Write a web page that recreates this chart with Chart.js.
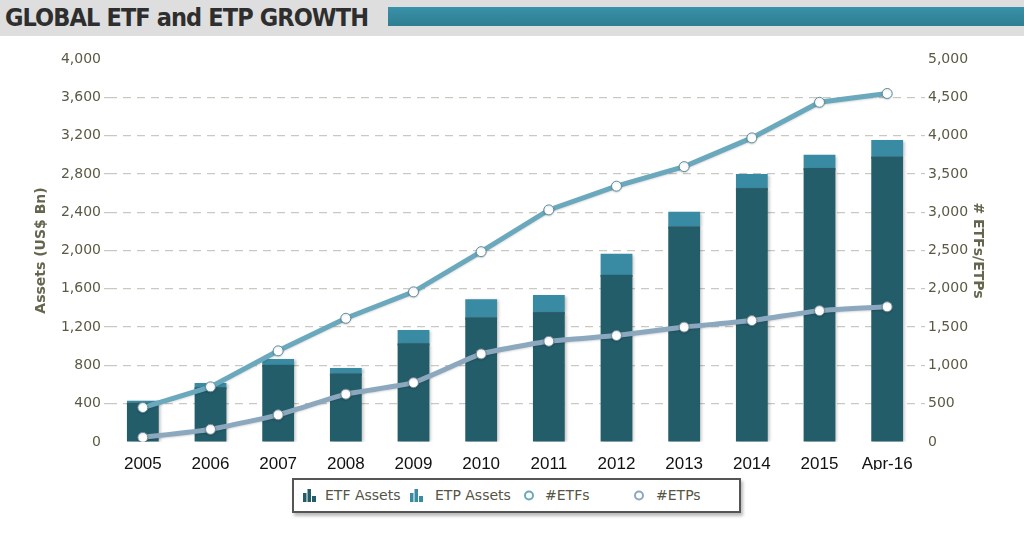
<!DOCTYPE html>
<html><head><meta charset="utf-8">
<script src="https://cdn.jsdelivr.net/npm/chart.js@4"></script>
<style>
html,body{margin:0;padding:0;background:#fff;width:1024px;height:540px;overflow:hidden;position:relative;font-family:"DejaVu Sans",Verdana,sans-serif;}
#band{position:absolute;left:0;top:0;width:1024px;height:36px;background:#dedede;}
#title{position:absolute;left:5px;top:2px;font-family:"DejaVu Sans Condensed","DejaVu Sans",sans-serif;font-weight:bold;font-size:25px;color:#2e2e2e;letter-spacing:-0.9px;line-height:32px;}
#tbar{position:absolute;left:388px;top:7px;width:636px;height:19px;background:linear-gradient(#3892a9,#2f7d91);}
#wrap{position:absolute;left:0;top:40px;width:1024px;height:430px;}
#legend{position:absolute;left:292px;top:478px;width:445px;height:31px;border:2px solid #555;box-shadow:2px 3px 3px #bbb;background:#fff;font-size:14px;color:#555545;}
.li{position:absolute;top:7px;white-space:nowrap;}
.ic{position:absolute;top:9px;}
</style></head>
<body>
<div id="band"></div>
<div id="title">GLOBAL ETF and ETP GROWTH</div>
<div id="tbar"></div>
<div id="wrap"><canvas id="c"></canvas></div>
<div id="legend"></div>
<script>
const categories = ['2005','2006','2007','2008','2009','2010','2011','2012','2013','2014','2015','Apr-16'];
const etfAssets = [410,570,805,715,1030,1300,1355,1745,2250,2650,2860,2980];
const etpAssets = [22,45,62,58,140,190,180,220,155,150,140,175];
const numETFs = [450,720,1190,1615,1960,2485,3030,3340,3595,3970,4435,4550];
const numETPs = [60,165,355,625,775,1150,1315,1390,1500,1585,1715,1765];
const seriesLabels = ['ETF Assets','ETP Assets','#ETFs','#ETPs'];
const leftTicks = [0,400,800,1200,1600,2000,2400,2800,3200,3600,4000];
const rightTicks = [0,500,1000,1500,2000,2500,3000,3500,4000,4500,5000];

const cDark='#245d6a', cLight='#388ba3', cEtf='#6aa9bd', cEtp='#8ca8be';
const tickColor='#5a5a44', gridColor='#c9c9c1';
const tickFont={family:'"DejaVu Sans",Verdana',size:14};
const titleFont={family:'"DejaVu Sans",Verdana',size:14,weight:'bold'};

const shadowPlugin={id:'shadow',
  beforeDatasetDraw(chart,args){const ctx=chart.ctx;ctx.save();
    if(args.index>=2){ctx.shadowColor='rgba(0,0,0,0.25)';ctx.shadowBlur=3;ctx.shadowOffsetX=2;ctx.shadowOffsetY=1;}
    else {ctx.shadowColor='rgba(0,0,0,0.15)';ctx.shadowBlur=2;ctx.shadowOffsetY=1;}},
  afterDatasetDraw(chart){chart.ctx.restore();}
};
const seamPlugin={id:'seam',afterDatasetDraw(chart,args){
  if(args.index!==3) return;
  const meta=chart.getDatasetMeta(2);const ctx=chart.ctx;
  ctx.save();ctx.fillStyle='rgba(22,52,60,0.85)';
  meta.data.forEach(b=>{const w=b.width;ctx.fillRect(b.x-w/2,b.y,w,2);});
  ctx.restore();
}};

const chart=new Chart(document.getElementById('c'),{
  data:{labels:categories,datasets:[
    {type:'line',label:seriesLabels[2],data:numETFs,yAxisID:'y1',borderColor:cEtf,borderWidth:5,pointRadius:5,pointBorderWidth:1,pointBackgroundColor:'#fff',pointBorderColor:'#5b8d9c',tension:0,order:0},
    {type:'line',label:seriesLabels[3],data:numETPs,yAxisID:'y1',borderColor:cEtp,borderWidth:5,pointRadius:5,pointBorderWidth:1,pointBackgroundColor:'#fff',pointBorderColor:'#6f8798',tension:0.15,order:1},
    {type:'bar',label:seriesLabels[0],data:etfAssets,yAxisID:'y',backgroundColor:cDark,stack:'a',barPercentage:0.47,categoryPercentage:1,order:2},
    {type:'bar',label:seriesLabels[1],data:etpAssets,yAxisID:'y',backgroundColor:cLight,stack:'a',barPercentage:0.47,categoryPercentage:1,order:3}
  ]},
  options:{responsive:true,maintainAspectRatio:false,animation:false,
    layout:{padding:{top:19,bottom:0,left:33,right:30}},
    plugins:{legend:{display:false},tooltip:{enabled:false}},
    scales:{
      x:{stacked:true,grid:{display:false},border:{display:false},
        ticks:{color:'#111',font:{family:'"Liberation Sans Narrow","Liberation Sans",Arial',size:17},padding:4},
        afterFit(s){s.height=28;}},
      y:{position:'left',stacked:true,min:0,max:4000,
        afterBuildTicks(s){s.ticks=leftTicks.map(v=>({value:v}));},
        ticks:{color:tickColor,font:tickFont,padding:3,callback:v=>v.toLocaleString('en-US')},
        grid:{color:c=>(c.tick&&(c.tick.value===0||c.tick.value===4000))?'rgba(0,0,0,0)':gridColor,lineWidth:1.2,tickLength:5,drawTicks:true,tickBorderDash:[8,6]},
        border:{display:false,dash:[8,6]},
        title:{display:true,text:'Assets (US$ Bn)',color:'#66664f',font:titleFont,padding:{top:0,bottom:8}},
        afterFit(s){s.width=76;}},
      y1:{position:'right',min:0,max:5000,
        afterBuildTicks(s){s.ticks=rightTicks.map(v=>({value:v}));},
        ticks:{color:tickColor,font:tickFont,padding:3,callback:v=>v.toLocaleString('en-US')},
        grid:{drawOnChartArea:false,color:c=>(c.tick&&(c.tick.value===0||c.tick.value===5000))?'rgba(0,0,0,0)':gridColor,lineWidth:1.2,tickLength:4,tickBorderDash:[8,6]},
        border:{display:false,dash:[8,6]},
        title:{display:true,text:'# ETFs/ETPs',color:'#66664f',font:titleFont,padding:{top:8,bottom:0}},
        afterFit(s){s.width=73;}}
    }
  },
  plugins:[shadowPlugin,seamPlugin]
});

// legend built from series labels
const lg=document.getElementById('legend');
const barIcon=(c)=>`<svg width="14" height="13" viewBox="0 0 14 13"><rect x="0" y="4" width="3.5" height="9" fill="${c}"/><rect x="4.5" y="0" width="3.5" height="13" fill="${c}"/><rect x="9" y="7" width="4" height="6" fill="${c}"/></svg>`;
const circIcon=(c)=>`<svg width="14" height="13" viewBox="0 0 14 13"><circle cx="7" cy="6.5" r="4" fill="#fff" stroke="${c}" stroke-width="2"/></svg>`;
const items=[
  {icon:barIcon(cDark),x:9,tx:31,label:seriesLabels[0]},
  {icon:barIcon(cLight),x:116,tx:141,label:seriesLabels[1]},
  {icon:circIcon(cEtf),x:228,tx:251,label:seriesLabels[2]},
  {icon:circIcon(cEtp),x:338,tx:362,label:seriesLabels[3]}
];
items.forEach(it=>{
  const i=document.createElement('div');i.className='ic';i.style.left=it.x+'px';i.innerHTML=it.icon;lg.appendChild(i);
  const t=document.createElement('div');t.className='li';t.style.left=it.tx+'px';t.textContent=it.label;lg.appendChild(t);
});
</script>
</body></html>
